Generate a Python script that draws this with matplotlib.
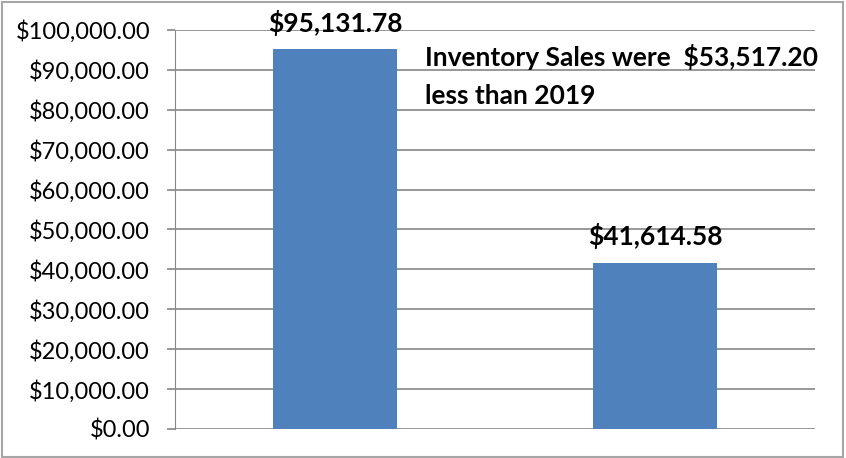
import matplotlib.pyplot as plt
from matplotlib.patches import Rectangle

plt.rcParams['font.family'] = ['Lato', 'DejaVu Sans']

categories = ['2019', '2020']
sales = [95131.78, 41614.58]
bar_labels = ['$95,131.78', '$41,614.58']
ticks = list(range(0, 100001, 10000))
tick_labels = ['${:,.2f}'.format(t) for t in ticks]
note_lines = ['Inventory Sales were  $53,517.20', 'less than 2019']

fig = plt.figure(figsize=(8.46, 4.58), dpi=100)
ax = fig.add_axes([175 / 846, 1 - 429 / 458, 640 / 846, 399 / 458])

x = [0, 1]
ax.bar(x, sales, width=0.39, color='#4F81BD', zorder=3)
ax.set_xlim(-0.5, 1.5)
ax.set_ylim(0, 100000)
ax.set_yticks(ticks)
ax.set_yticklabels(tick_labels, fontsize=17)
ax.set_xticks([])
ax.yaxis.grid(True, color='#868686', linewidth=1.2)
ax.set_axisbelow(True)
for s in ['top', 'right', 'bottom']:
    ax.spines[s].set_visible(False)
ax.spines['left'].set_color('#868686')
ax.tick_params(axis='y', length=6, color='#868686', width=1.2, pad=12)

for xi, v, lab in zip(x, sales, bar_labels):
    ax.annotate(lab, (xi, v), xytext=(0, 10), textcoords='offset points',
                ha='center', va='bottom', fontsize=19, fontweight='bold')

for yy, line in zip([57, 96], note_lines):
    fig.text(425 / 846, 1 - yy / 458, line, ha='left', va='center',
             fontsize=19, fontweight='bold')

fig.patches.append(Rectangle((0.002, 0.003), 0.995, 0.993, transform=fig.transFigure,
                             fill=False, edgecolor='#A6A6A6', linewidth=1.5))

fig.savefig('out.png', dpi=100)
